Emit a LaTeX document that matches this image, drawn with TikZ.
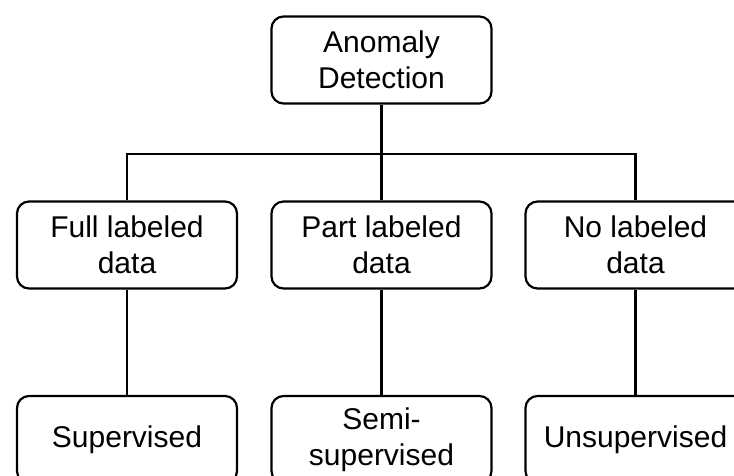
\documentclass[tikz,border=0pt]{standalone}
\usepackage{fontspec}
\setmainfont{Liberation Sans}
\begin{document}
\begin{tikzpicture}[x=1pt,y=-1pt,
  box/.style={draw,line width=2.2pt,rounded corners=12pt,minimum width=220pt,minimum height=87pt,
    align=center,inner sep=0pt,font=\fontsize{30}{36}\selectfont},
  link/.style={line width=2.2pt}]
\useasboundingbox (0,0) rectangle (734,475);
\clip (0,0) rectangle (734,475);
\node[box] (top) at (381.5,60) {Anomaly\\Detection};
\node[box] (l) at (127,245) {Full labeled\\data};
\node[box] (m) at (381.5,245) {Part labeled\\data};
\node[box] (r) at (635.5,245) {No labeled\\data};
\node[box] (lb) at (127,439.5) {Supervised};
\node[box] (mb) at (381.5,439.5) {Semi-\\supervised};
\node[box] (rb) at (635.5,439.5) {Unsupervised};
\coordinate (j) at (381.5,154);
\draw[link] (top.south) -- (j);
\draw[link] (l.north) |- (j) -| (r.north);
\draw[link] (j) -- (m.north);
\draw[link] (l.south) -- (lb.north);
\draw[link] (m.south) -- (mb.north);
\draw[link] (r.south) -- (rb.north);
\end{tikzpicture}
\end{document}
